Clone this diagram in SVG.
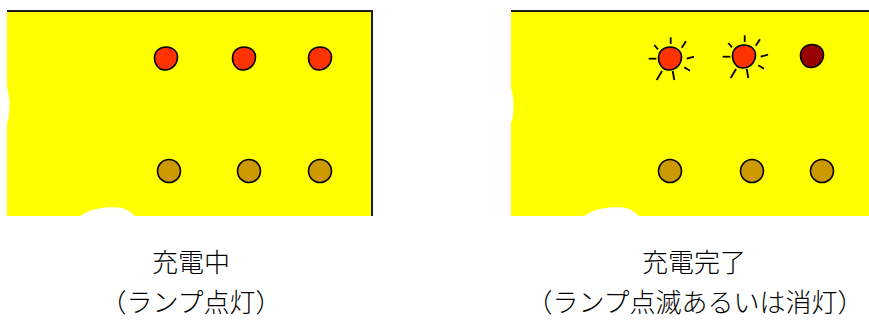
<svg xmlns="http://www.w3.org/2000/svg" xmlns:xlink="http://www.w3.org/1999/xlink" width="869" height="322" viewBox="0 0 869 322">
  <style>
    .panel { fill: #FFFF00; }
    .gap { fill: #FFFFFF; }
    .edge { stroke: #1a1a1a; stroke-width: 2; fill: none; }
    .on { fill: #FF3300; stroke: #000; stroke-width: 1.6; }
    .off { fill: #990000; stroke: #000; stroke-width: 1.6; }
    .amber { fill: #CC9900; stroke: #000; stroke-width: 1.6; }
    .ray { stroke: #000; stroke-width: 1.8; stroke-linecap: butt; fill: none; }
    .label { font-family: "Noto Sans CJK JP", "Noto Sans CJK SC", sans-serif; font-size: 26px; font-weight: 300; fill: #000; text-anchor: middle; }
  </style>
  <defs>
    <path id="blob" d="M -11.5,-0.5 C -11.5,-7.5 -6,-11.5 0,-11.5 C 6.5,-11.5 11.5,-7.5 11.5,-1.5 C 11.5,5.5 6,11.5 -1,11.5 C -7,11.5 -11.5,6 -11.5,-0.5 Z"/>
    <g id="rays">
      <line class="ray" x1="0.7" y1="-20.7" x2="0.7" y2="-14"/>
      <line class="ray" x1="16" y1="-16.7" x2="11.7" y2="-10.3"/>
      <line class="ray" x1="-15.7" y1="-13" x2="-12" y2="-8.7"/>
      <line class="ray" x1="-21.3" y1="0.7" x2="-13.7" y2="0.7"/>
      <line class="ray" x1="16.7" y1="0.7" x2="24" y2="-1.3"/>
      <line class="ray" x1="14.3" y1="9.3" x2="20" y2="12.7"/>
      <line class="ray" x1="2.7" y1="13" x2="4.3" y2="22"/>
      <line class="ray" x1="-8" y1="13" x2="-13.3" y2="22"/>
    </g>
  </defs>

  <g id="panel-charging">
    <rect class="panel" x="7" y="11" width="365" height="205"/>
    <path class="gap" d="M 7,87 C 8.5,92 9.5,98 9.5,104 C 9.5,112 9,118 7,123 Z"/>
    <path class="gap" d="M 78,217 C 84,214 89,210 96,209 C 103,207.5 110,207 118,207.5 C 125,208 130,211 136,217 Z"/>
    <path class="edge" d="M 7,11 H 372 V 216"/>
    <use href="#blob" xlink:href="#blob" class="on" x="166" y="58.5"/>
    <use href="#blob" xlink:href="#blob" class="on" x="244" y="58.5"/>
    <use href="#blob" xlink:href="#blob" class="on" x="320" y="58.5"/>
    <circle class="amber" cx="169" cy="171" r="11.5"/>
    <circle class="amber" cx="249" cy="171" r="11.5"/>
    <circle class="amber" cx="320" cy="171" r="11.5"/>
  </g>

  <g id="panel-complete">
    <rect class="panel" x="511" y="11" width="358" height="205"/>
    <path class="gap" d="M 511,88 C 512.5,93 513.5,99 513.5,105 C 513.5,113 513,118 511,123 Z"/>
    <path class="gap" d="M 582,217 C 588,214 593,210 600,209 C 607,207.5 614,207 622,207.5 C 629,208 634,211 640,217 Z"/>
    <path class="edge" d="M 511,11 H 869"/>
    <use href="#rays" xlink:href="#rays" x="670" y="58"/>
    <use href="#blob" xlink:href="#blob" class="on" x="670" y="58.5"/>
    <use href="#rays" xlink:href="#rays" x="744" y="56"/>
    <use href="#blob" xlink:href="#blob" class="on" x="744" y="56.5"/>
    <use href="#blob" xlink:href="#blob" class="off" x="812" y="56"/>
    <circle class="amber" cx="670" cy="171" r="11.5"/>
    <circle class="amber" cx="752" cy="171" r="11.5"/>
    <circle class="amber" cx="822" cy="171" r="11.5"/>
  </g>

  <g id="connectors"/>

  <g id="labels">
    <text class="label" x="191" y="272">充電中</text>
    <text class="label" x="191" y="312">（ランプ点灯）</text>
    <text class="label" x="694" y="272">充電完了</text>
    <text class="label" x="695" y="312">（ランプ点滅あるいは消灯）</text>
  </g>
</svg>
